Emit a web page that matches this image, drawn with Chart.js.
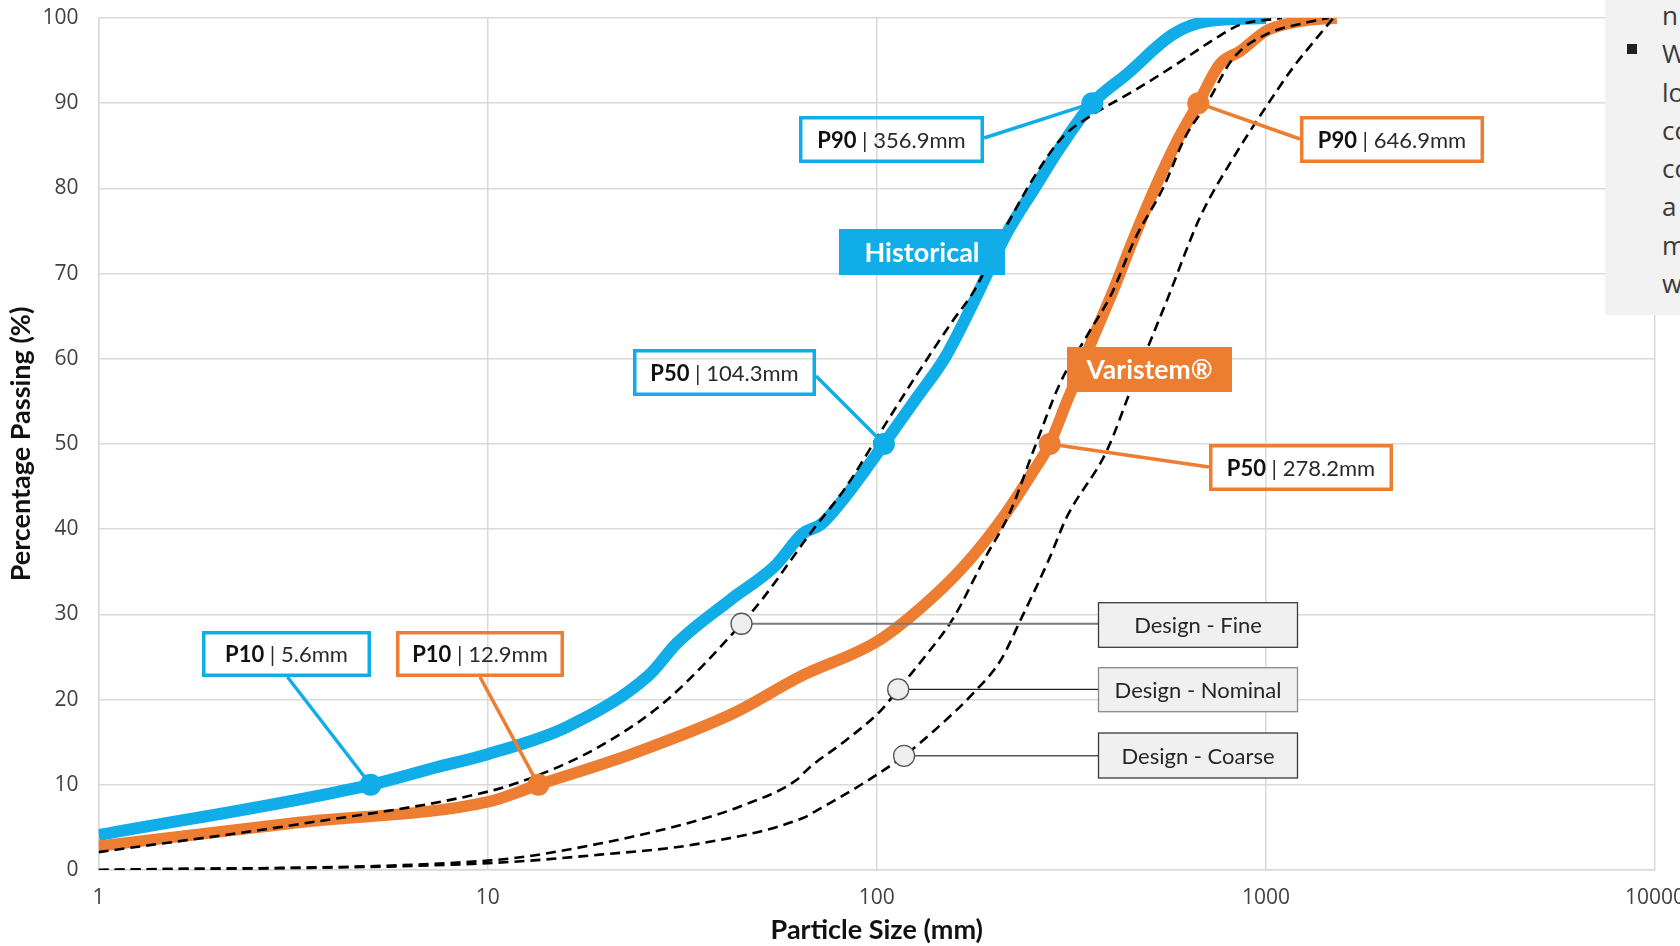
<!DOCTYPE html>
<html>
<head>
<meta charset="utf-8">
<script src="https://cdn.jsdelivr.net/npm/chart.js@4.4.1/dist/chart.umd.min.js"></script>
<style>
  html, body { margin: 0; padding: 0; background: #fff; overflow: hidden; }
  #wrap { position: relative; width: 1680px; height: 946px; }
  #side { position: absolute; left: 1605px; top: 0; width: 75px; height: 315px; background: #f2f2f2; overflow: hidden;
          font-family: "Open Sans", sans-serif; font-size: 26px; color: #3a3a3a; }
  #side .txt { position: absolute; left: 57px; top: -4px; line-height: 38.3px; white-space: nowrap; }
  #side .bul { position: absolute; left: 22px; top: 44px; width: 10px; height: 10px; background: #222; }
</style>
</head>
<body>
<div id="wrap">
  <canvas id="psd" width="1680" height="946"></canvas>
  <div id="side">
    <div class="bul"></div>
    <div class="txt">n<br>W<br>lo<br>co<br>co<br>a<br>m<br>w</div>
  </div>
</div>
<script>
// axis ticks
const xTicks = [1, 10, 100, 1000, 10000];

// Historical curve
const histSize = [1, 5.0, 7.3, 10, 16, 26, 30.6, 42, 54.5, 64.6, 72, 83, 104.3, 127, 150, 178, 215, 255, 296, 358, 439, 578, 704, 1000];
const histPass = [4.1, 10, 12, 13.6, 16.8, 22.9, 26.6, 31.7, 35.6, 39.5, 40.6, 43.8, 50, 55.5, 60.2, 66.8, 74.6, 80.1, 84.8, 90, 93.4, 98.1, 99.6, 100];

// Varistem curve
const varSize = [1, 3.3, 10, 13.5, 23.7, 42.8, 63.5, 100, 130, 167, 211, 250, 278.2, 308, 360, 405, 456, 524, 590, 670, 762, 858, 1004, 1224, 1520];
const varPass = [2.8, 5.6, 8.0, 10, 13.7, 18.4, 22.7, 26.8, 30.8, 35.6, 41.4, 46.5, 50, 55, 62.5, 68, 74, 80.5, 85.5, 90, 94.6, 96.1, 98.5, 99.6, 100];

// design envelopes
const fineSize = [1, 3.3, 10, 13.1, 19.4, 28.8, 44.9, 51.2, 67.4, 83.2, 102.8, 127, 157, 178, 215, 255, 300, 357, 456, 590, 748, 858, 1100];
const finePass = [2.1, 5.4, 9.2, 10.9, 14.5, 19.9, 28.9, 32, 39.5, 44.9, 51.6, 58.2, 64.5, 68, 75.5, 81.5, 86, 88.6, 91.4, 94.6, 97.7, 99.2, 100];

const nomSize = [1, 10, 19.4, 35.1, 44.2, 61.9, 67.4, 83.2, 102.8, 113.5, 132.7, 157, 188, 220, 252.6, 295.6, 350, 400, 460, 545, 620, 704, 825, 1004, 1224, 1450];
const nomPass = [0, 1.1, 3.1, 5.9, 7.4, 10.5, 12.1, 15.2, 18.8, 21.2, 25, 29.5, 36.3, 42, 49.2, 57.1, 63, 67.5, 74, 80.1, 86, 89.9, 95.3, 98.1, 99.3, 100];

const coarseSize = [1, 10, 19.4, 35.1, 64.6, 70.2, 92.5, 117.5, 144, 176.5, 208, 235, 276, 307.6, 390, 456, 556, 677, 825, 985, 1175, 1377, 1490];
const coarsePass = [0, 0.8, 1.8, 3.1, 6.1, 7.0, 10.2, 13.4, 16.8, 20.7, 24.6, 29.5, 36.3, 41.4, 49.2, 57.1, 66.8, 76.6, 83.6, 89.1, 94.2, 98.1, 100];

// P10 / P50 / P90 points and their labels
const pNames = ['P10', 'P50', 'P90'];
const histPSize = [5.0, 104.3, 358];
const histPPass = [10, 50, 90];
const histPText = ['5.6mm', '104.3mm', '356.9mm'];
const varPSize = [13.5, 278.2, 670];
const varPPass = [10, 50, 90];
const varPText = ['12.9mm', '278.2mm', '646.9mm'];

// design label points
const designNames = ['Design - Fine', 'Design - Nominal', 'Design - Coarse'];
const designMarkSize = [44.9, 113.5, 117.5];
const designMarkPass = [28.9, 21.2, 13.4];

const BLUE = '#11ADE8';
const ORANGE = '#ED7D31';

function pts(xs, ys) {
    return xs.map((v, i) => ({ x: v, y: ys[i] }));
}

// callout boxes (pixel layout) : x, y, w, h, anchor on box
const histBoxes = [
    { x: 202, y: 631, w: 169, h: 46, ax: 287.5, ay: 677 },
    { x: 633, y: 349, w: 183, h: 47, ax: 816, ay: 376 },
    { x: 799, y: 116, w: 185, h: 47, ax: 984, ay: 138 }
];
const varBoxes = [
    { x: 396, y: 631, w: 168, h: 46, ax: 480, ay: 677 },
    { x: 1209, y: 444, w: 184, h: 47, ax: 1209, ay: 467 },
    { x: 1300, y: 116, w: 184, h: 47, ax: 1300, ay: 139 }
];
const designBoxes = [
    { x: 1098.5, y: 602.7, w: 199, h: 44.6, edge: '#3a3a3a', line: '#7a7a7a', lw: 2 },
    { x: 1098.5, y: 667.7, w: 199, h: 44, edge: '#8a8a8a', line: '#222', lw: 1.2 },
    { x: 1098.5, y: 733, w: 199, h: 45, edge: '#3a3a3a', line: '#555', lw: 1.5 }
];

function drawCallout(ctx, b, color, name, text, mx, my) {
    ctx.strokeStyle = color;
    ctx.lineWidth = 3.5;
    ctx.beginPath();
    ctx.moveTo(b.ax, b.ay);
    ctx.lineTo(mx, my);
    ctx.stroke();
    ctx.strokeRect(b.x + 1.75, b.y + 1.75, b.w - 3.5, b.h - 3.5);
    ctx.font = 'bold 22px Lato';
    const w1 = ctx.measureText(name).width;
    ctx.font = '22px Lato';
    const rest = ' | ' + text;
    const w2 = ctx.measureText(rest).width;
    let sx = b.x + b.w / 2 - (w1 + w2) / 2;
    const cy = b.y + b.h / 2 + 1;
    ctx.textBaseline = 'middle';
    ctx.textAlign = 'left';
    ctx.fillStyle = '#111';
    ctx.font = 'bold 22px Lato';
    ctx.fillText(name, sx, cy);
    ctx.fillStyle = '#2a2a2a';
    ctx.font = '22px Lato';
    ctx.fillText(rest, sx + w1, cy);
}

function drawTag(ctx, x, y, w, h, color, text, size) {
    ctx.fillStyle = color;
    ctx.fillRect(x, y, w, h);
    ctx.fillStyle = '#fff';
    ctx.font = 'bold ' + size + 'px Lato';
    ctx.textAlign = 'center';
    ctx.textBaseline = 'middle';
    ctx.fillText(text, x + w / 2, y + h / 2 + 1);
}

const overlay = {
    id: 'overlay',
    afterDatasetsDraw(chart) {
        const { ctx, scales: { x, y } } = chart;
        ctx.save();

        // design labels
        designNames.forEach((name, i) => {
            const px = x.getPixelForValue(designMarkSize[i]);
            const py = y.getPixelForValue(designMarkPass[i]);
            const b = designBoxes[i];
            ctx.strokeStyle = b.line;
            ctx.lineWidth = b.lw;
            ctx.beginPath();
            ctx.moveTo(px, py);
            ctx.lineTo(b.x, py);
            ctx.stroke();
            ctx.beginPath();
            ctx.arc(px, py, 10.5, 0, Math.PI * 2);
            ctx.fillStyle = '#eeeeee';
            ctx.fill();
            ctx.strokeStyle = '#555';
            ctx.lineWidth = 1.3;
            ctx.stroke();
            ctx.fillStyle = '#f0f0f0';
            ctx.fillRect(b.x, b.y, b.w, b.h);
            ctx.strokeStyle = b.edge;
            ctx.lineWidth = 1.3;
            ctx.strokeRect(b.x, b.y, b.w, b.h);
            ctx.fillStyle = '#262626';
            ctx.font = '22px Lato';
            ctx.textAlign = 'center';
            ctx.textBaseline = 'middle';
            ctx.fillText(name, b.x + b.w / 2, b.y + b.h / 2 + 1);
        });

        // P callouts
        pNames.forEach((name, i) => {
            drawCallout(ctx, histBoxes[i], BLUE, name, histPText[i],
                x.getPixelForValue(histPSize[i]), y.getPixelForValue(histPPass[i]));
            drawCallout(ctx, varBoxes[i], ORANGE, name, varPText[i],
                x.getPixelForValue(varPSize[i]), y.getPixelForValue(varPPass[i]));
        });

        // series tags
        drawTag(ctx, 839, 229, 166, 46, BLUE, 'Historical', 27);
        drawTag(ctx, 1067, 347, 165, 45, ORANGE, 'Varistem®', 26.5);
        ctx.restore();
    }
};

const dashed = { borderColor: '#000', borderWidth: 2.6, borderDash: [10, 6], pointRadius: 0,
                 cubicInterpolationMode: 'monotone', fill: false, order: 1 };

new Chart(document.getElementById('psd'), {
    type: 'line',
    data: {
        datasets: [
            Object.assign({ label: 'Design - Fine', data: pts(fineSize, finePass) }, dashed),
            Object.assign({ label: 'Design - Nominal', data: pts(nomSize, nomPass) }, dashed),
            Object.assign({ label: 'Design - Coarse', data: pts(coarseSize, coarsePass) }, dashed),
            { label: 'Historical', data: pts(histSize, histPass), borderColor: BLUE, borderWidth: 12,
              pointRadius: 0, cubicInterpolationMode: 'monotone', borderJoinStyle: 'round', order: 3 },
            { label: 'Varistem', data: pts(varSize, varPass), borderColor: ORANGE, borderWidth: 11.5,
              pointRadius: 0, cubicInterpolationMode: 'monotone', borderJoinStyle: 'round', order: 2 },
            { label: 'Historical P', data: pts(histPSize, histPPass), showLine: false, pointRadius: 11,
              pointBackgroundColor: BLUE, pointBorderWidth: 0, order: 0 },
            { label: 'Varistem P', data: pts(varPSize, varPPass), showLine: false, pointRadius: 11,
              pointBackgroundColor: ORANGE, pointBorderWidth: 0, order: 0 }
        ]
    },
    options: {
        responsive: false,
        animation: false,
        layout: { padding: { top: 18, right: 25, left: 0, bottom: 0 } },
        plugins: { legend: { display: false }, tooltip: { enabled: false } },
        scales: {
            x: {
                type: 'logarithmic', min: 1, max: 10000,
                afterBuildTicks: s => { s.ticks = xTicks.map(v => ({ value: v })); },
                afterFit: s => { s.height = 76; s.paddingLeft = 0; s.paddingRight = 0; },
                ticks: { callback: v => String(v), color: '#404040', font: { family: 'Open Sans', size: 21 },
                         padding: 15, maxRotation: 0, autoSkip: false },
                grid: { color: '#d9d9d9', lineWidth: 1.5, drawTicks: false },
                border: { color: '#d9d9d9', width: 1.5 },
                title: { display: true, text: 'Particle Size (mm)', color: '#111',
                         font: { family: 'Lato', size: 27, weight: 'bold', lineHeight: 1 }, padding: { top: 0, bottom: 2 } }
            },
            y: {
                min: 0, max: 100,
                afterFit: s => { s.width = 98.6; s.paddingTop = 0; s.paddingBottom = 0; },
                ticks: { stepSize: 10, color: '#404040', font: { family: 'Open Sans', size: 21 }, padding: 20 },
                grid: { color: '#d9d9d9', lineWidth: 1.5, drawTicks: false },
                border: { color: '#d9d9d9', width: 1.5 },
                title: { display: true, text: 'Percentage Passing (%)', color: '#111',
                         font: { family: 'Lato', size: 27, weight: 'bold', lineHeight: 1 }, padding: { top: 8, bottom: 0 } }
            }
        }
    },
    plugins: [overlay]
});
</script>
</body>
</html>
